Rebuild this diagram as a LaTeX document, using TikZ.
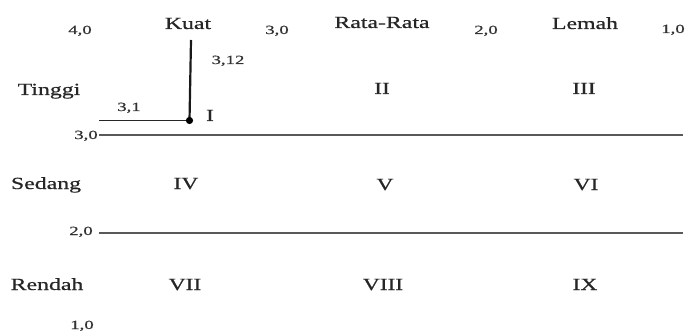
\documentclass[tikz,border=0pt]{standalone}
\usepackage{fontspec}
\setmainfont{Liberation Serif}
\newfontfamily\heavyserif[FakeBold=0.6]{Liberation Serif}
\begin{document}
\begin{tikzpicture}[x=1pt,y=-1pt,
  lbl/.style={font=\heavyserif\fontsize{17}{19}\selectfont, text=black!85, inner sep=0pt, anchor=base, xscale=1.4},
  num/.style={font=\heavyserif\fontsize{12.5}{14}\selectfont, text=black!80, inner sep=0pt, anchor=base, xscale=1.5},
  rom/.style={font=\heavyserif\fontsize{17}{19}\selectfont, text=black!85, inner sep=0pt, anchor=base, xscale=1.38},
  grid/.style={draw=black!65, line width=1.8pt},
  mark line/.style={draw=black!90, line width=2.2pt}]
\useasboundingbox (0,0) rectangle (695,331);
% top header
\node[num] (n40) at (80,34) {4,0};
\node[lbl] (kuat) at (188,29) {Kuat};
\node[num] (n30t) at (277,34) {3,0};
\node[lbl] (rata) at (382,28) {Rata-Rata};
\node[num] (n20t) at (486,34) {2,0};
\node[lbl] (lemah) at (585,29) {Lemah};
\node[num] (n10t) at (673,33) {1,0};
% row labels
\node[lbl] (tinggi) at (49,95) {Tinggi};
\node[lbl] (sedang) at (46,189) {Sedang};
\node[lbl] (rendah) at (47,290) {Rendah};
% scale numbers
\node[num] (n30) at (86,139) {3,0};
\node[num] (n20) at (81,235) {2,0};
\node[num] (n10) at (82,329) {1,0};
% grid lines
\coordinate (l1a) at (99,135); \coordinate (l1b) at (683,135);
\coordinate (l2a) at (99,233); \coordinate (l2b) at (683,233);
\draw[grid] (l1a) -- (l1b);
\draw[grid] (l2a) -- (l2b);
% marker
\coordinate (top) at (191,40);
\coordinate (pt) at (189.5,120.5);
\coordinate (left) at (99,120.5);
\draw[mark line] (top) -- (pt);
\draw[draw=black!85, line width=1.6pt] (left) -- (pt);
\fill[black] (pt) circle (3.6pt);
\node[num] (v312) at (228,64) {3,12};
\node[num] (v31) at (129,111) {3,1};
% quadrant numerals
\node[rom] (q1) at (210,121) {I};
\node[rom] (q2) at (382,94) {II};
\node[rom] (q3) at (584,94) {III};
\node[rom] (q4) at (186,189) {IV};
\node[rom] (q5) at (385,190) {V};
\node[rom] (q6) at (586,190) {VI};
\node[rom] (q7) at (185,290) {VII};
\node[rom] (q8) at (383,290) {VIII};
\node[rom] (q9) at (585,290) {IX};
\end{tikzpicture}
\end{document}
